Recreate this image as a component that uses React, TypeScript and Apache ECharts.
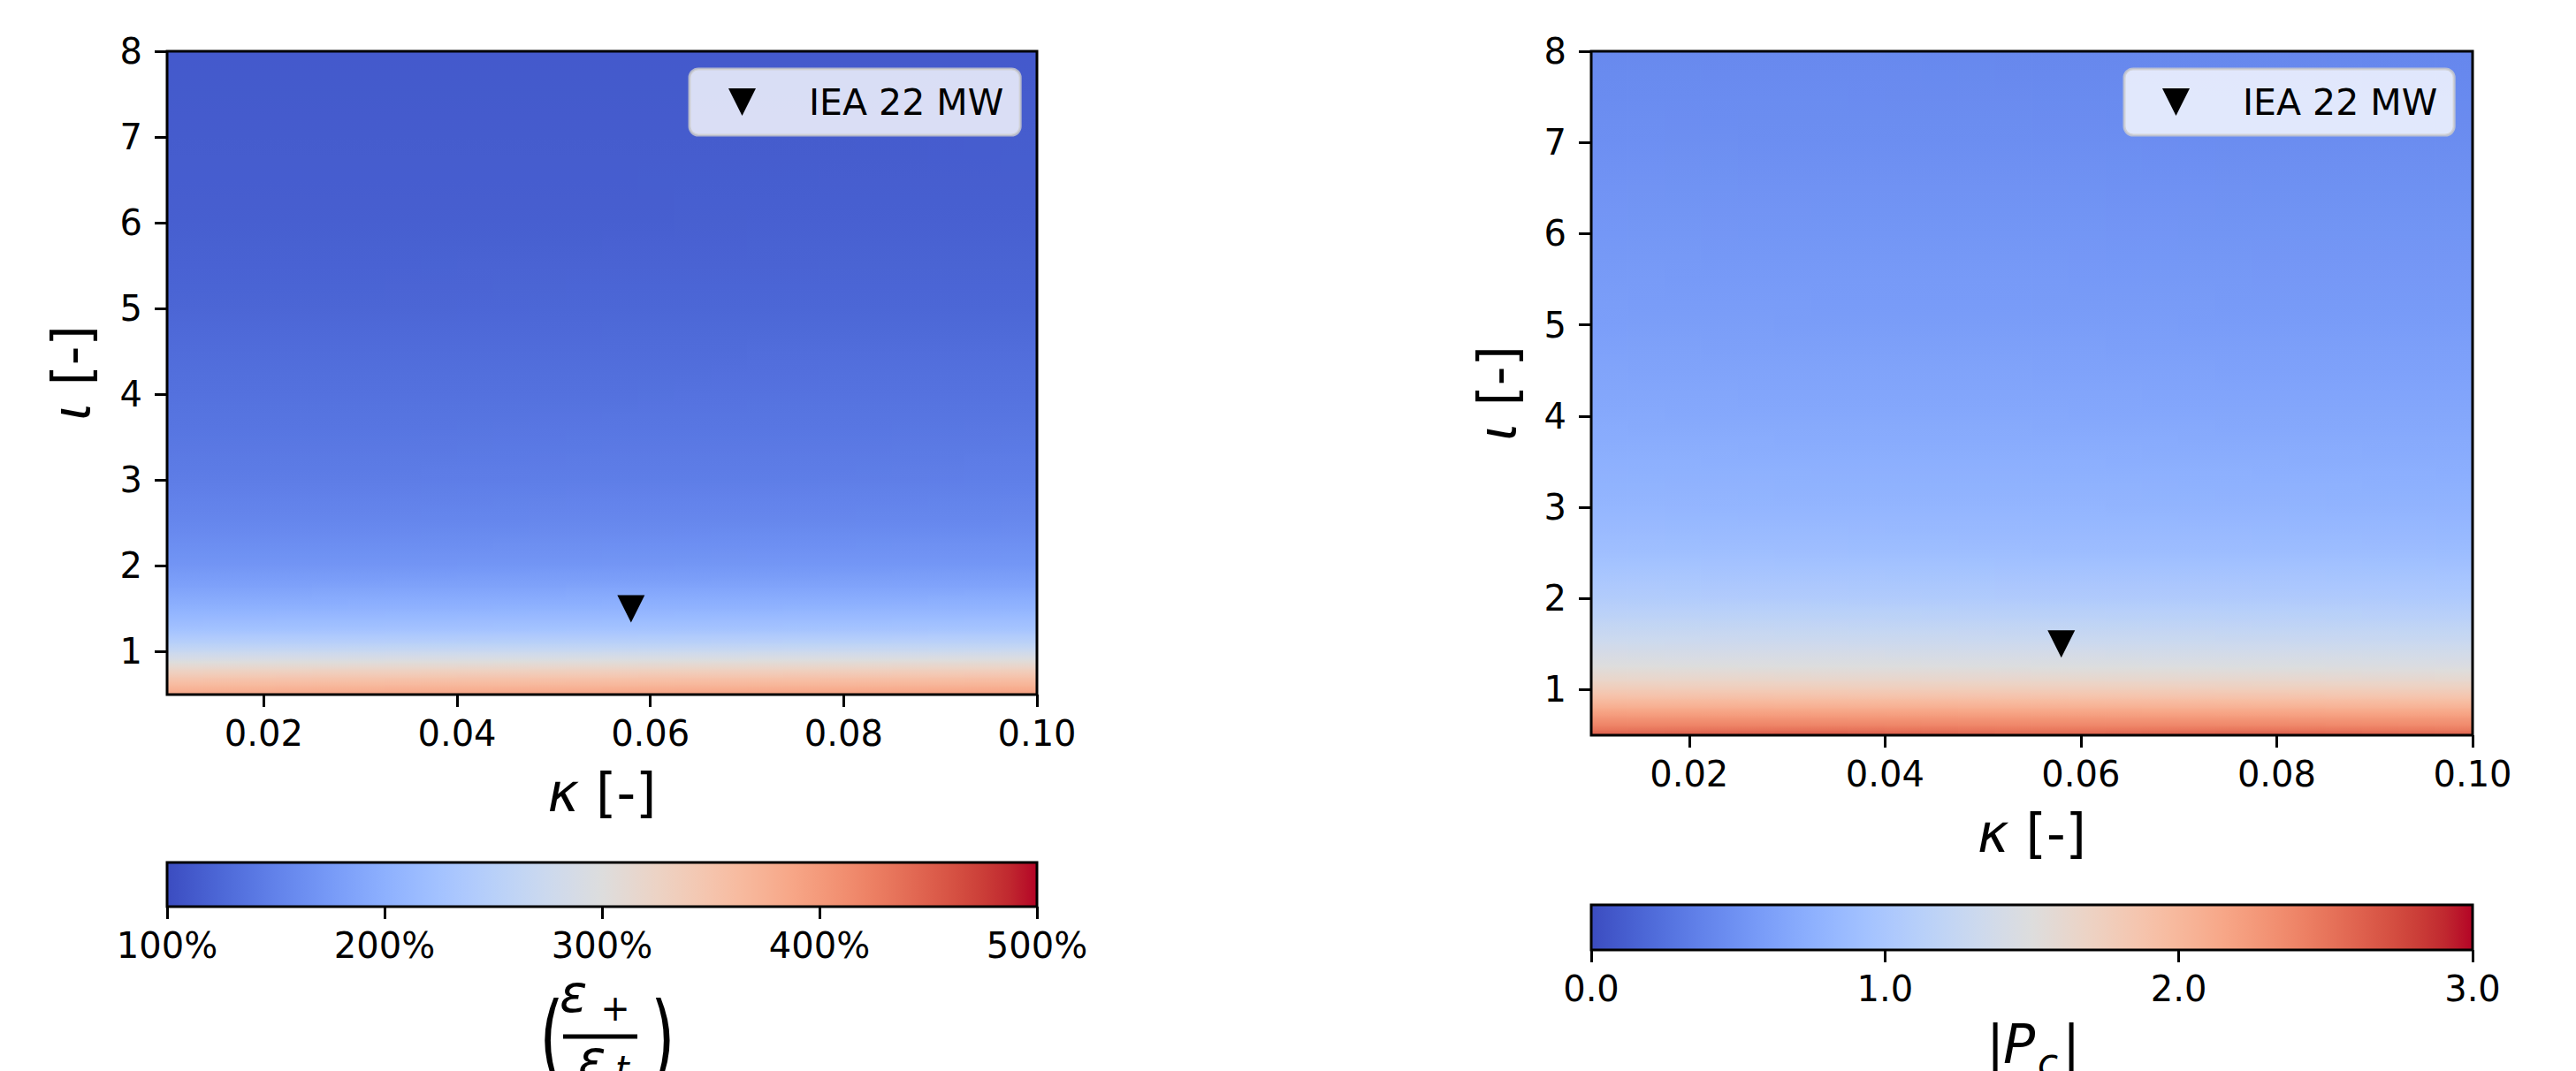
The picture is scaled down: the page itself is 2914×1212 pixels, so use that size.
import React, { useEffect, useRef } from "react";
import * as echarts from "echarts";

const FONT = "DejaVu Sans";

// ---- data ----
const kappa = [0.01, 0.0325, 0.055, 0.0775, 0.1];
const iota = [0.5, 0.55, 0.6, 0.7, 0.8, 0.9, 1.0, 1.1, 1.25, 1.5, 1.75, 2.0, 2.5, 3.0, 3.5, 4.0, 5.0, 6.0, 7.0, 8.0];

// (eps+/eps_t) in %, one row per iota value, one column per kappa value
const strainRatio = [
  [386, 388, 391, 393, 395],
  [376, 378, 381, 383, 385],
  [366, 368, 370, 372, 374],
  [345, 347, 349, 351, 353],
  [320, 322, 324, 326, 328],
  [294, 296, 298, 300, 302],
  [270, 272, 273, 275, 276],
  [250, 251, 252, 254, 255],
  [226, 227, 228, 229, 230],
  [202, 203, 204, 205, 206],
  [184, 185, 186, 186, 187],
  [170, 170, 171, 172, 172],
  [155, 155, 156, 156, 157],
  [145, 145, 146, 146, 147],
  [139, 139, 140, 140, 141],
  [134, 134, 134, 135, 135],
  [123, 123, 124, 124, 124],
  [117, 117, 117, 118, 118],
  [114, 114, 114, 114, 115],
  [112, 112, 112, 112, 112],
];

// |P_c|, one row per iota value, one column per kappa value
const pcAbs = [
  [2.64, 2.7, 2.6, 2.68, 2.62],
  [2.52, 2.54, 2.5, 2.52, 2.48],
  [2.42, 2.42, 2.4, 2.4, 2.38],
  [2.27, 2.26, 2.25, 2.24, 2.23],
  [2.1, 2.09, 2.08, 2.07, 2.06],
  [1.94, 1.93, 1.92, 1.91, 1.9],
  [1.79, 1.78, 1.77, 1.76, 1.75],
  [1.66, 1.65, 1.64, 1.63, 1.62],
  [1.51, 1.5, 1.49, 1.48, 1.47],
  [1.34, 1.33, 1.32, 1.31, 1.3],
  [1.2, 1.19, 1.18, 1.17, 1.16],
  [1.07, 1.06, 1.05, 1.05, 1.04],
  [0.91, 0.9, 0.89, 0.89, 0.88],
  [0.81, 0.8, 0.8, 0.79, 0.78],
  [0.75, 0.74, 0.74, 0.73, 0.72],
  [0.69, 0.68, 0.68, 0.67, 0.67],
  [0.6, 0.59, 0.59, 0.58, 0.58],
  [0.54, 0.53, 0.53, 0.52, 0.52],
  [0.48, 0.47, 0.47, 0.46, 0.46],
  [0.43, 0.43, 0.42, 0.42, 0.41],
];

const xTicks = [0.02, 0.04, 0.06, 0.08, 0.1];
const yTicks = [1, 2, 3, 4, 5, 6, 7, 8];
const ratioRange = [100, 500];
const pcRange = [0, 3];
const turbineName = "IEA 22 MW";
const turbinePoint = [0.058, 1.5];

// matplotlib "coolwarm" colormap
const COOLWARM = [
  [59, 76, 192], [68, 90, 204], [77, 104, 215], [87, 117, 225], [98, 130, 234],
  [108, 142, 241], [119, 154, 247], [130, 165, 251], [141, 176, 254], [152, 185, 255],
  [163, 194, 255], [174, 201, 253], [184, 208, 249], [194, 213, 244], [204, 217, 238],
  [213, 219, 230], [221, 221, 221], [229, 216, 209], [236, 211, 197], [241, 204, 185],
  [245, 196, 173], [247, 187, 160], [247, 177, 148], [247, 166, 135], [244, 154, 123],
  [241, 141, 111], [236, 127, 99], [229, 112, 88], [222, 96, 77], [213, 80, 66],
  [203, 62, 56], [192, 40, 47], [180, 4, 38],
];

function cw(t: number): string {
  const tt = Math.max(0, Math.min(1, t)) * (COOLWARM.length - 1);
  const i = Math.min(COOLWARM.length - 2, Math.floor(tt));
  const f = tt - i;
  const a = COOLWARM[i], b = COOLWARM[i + 1];
  const c = [0, 1, 2].map((k) => Math.round(a[k] + (b[k] - a[k]) * f));
  return `rgb(${c[0]},${c[1]},${c[2]})`;
}
const lerp = (a: number, b: number, f: number) => a + (b - a) * f;

function fieldSeries(values: number[][], vmin: number, vmax: number, idx: number) {
  const data: number[][] = [];
  for (let i = 0; i < iota.length - 1; i++)
    for (let j = 0; j < kappa.length - 1; j++) data.push([kappa[j], iota[i], i, j]);
  return {
    type: "custom",
    xAxisIndex: idx,
    yAxisIndex: idx,
    data,
    clip: true,
    silent: true,
    z: 1,
    renderItem: (params: any, api: any) => {
      const i = api.value(2), j = api.value(3);
      const p00 = api.coord([kappa[j], iota[i]]);
      const p11 = api.coord([kappa[j + 1], iota[i + 1]]);
      const x0 = p00[0], x1 = p11[0], yb = p00[1], yt = p11[1];
      const N = 6;
      const children: any[] = [];
      for (let k = 0; k < N; k++) {
        const fm = (k + 0.5) / N;
        const top = lerp(values[i + 1][j], values[i + 1][j + 1], fm);
        const bot = lerp(values[i][j], values[i][j + 1], fm);
        const stops: any[] = [];
        for (let s = 0; s <= 4; s++) {
          const v = lerp(top, bot, s / 4);
          stops.push({ offset: s / 4, color: cw((v - vmin) / (vmax - vmin)) });
        }
        const xa = lerp(x0, x1, k / N), xb = lerp(x0, x1, (k + 1) / N);
        children.push({
          type: "rect",
          shape: { x: xa - 0.4, y: yt - 0.4, width: xb - xa + 0.8, height: yb - yt + 0.8 },
          style: { fill: new echarts.graphic.LinearGradient(0, 0, 0, 1, stops) },
        });
      }
      return { type: "group", children };
    },
  };
}

function colorbarSeries(range: number[], idx: number) {
  return {
    type: "custom",
    xAxisIndex: idx,
    yAxisIndex: idx,
    data: [[range[0], range[1]]],
    silent: true,
    z: 1,
    renderItem: (params: any, api: any) => {
      const p0 = api.coord([api.value(0), 0]);
      const p1 = api.coord([api.value(1), 1]);
      const stops = COOLWARM.map((c, k) => ({
        offset: k / (COOLWARM.length - 1),
        color: `rgb(${c[0]},${c[1]},${c[2]})`,
      }));
      return {
        type: "rect",
        shape: { x: p0[0], y: p1[1], width: p1[0] - p0[0], height: p0[1] - p1[1] },
        style: { fill: new echarts.graphic.LinearGradient(0, 0, 1, 0, stops) },
      };
    },
  };
}

const txt = { fontFamily: FONT, color: "#000" };

function mainX(grid: number, nameGap: number) {
  return {
    type: "value",
    gridIndex: grid,
    min: 0.01,
    max: 0.1,
    name: "{i|κ} [-]",
    nameLocation: "middle",
    nameGap,
    nameTextStyle: { ...txt, fontSize: 60, rich: { i: { ...txt, fontSize: 60, fontStyle: "italic" } } },
    axisLine: { show: false },
    axisTick: { show: true, inside: false, length: 14, lineStyle: { color: "#000", width: 3 }, customValues: xTicks },
    axisLabel: { ...txt, fontSize: 40, margin: 24, customValues: xTicks, formatter: (v: number) => v.toFixed(2) },
    splitLine: { show: false },
  };
}
function mainY(grid: number, nameGap: number) {
  return {
    type: "value",
    gridIndex: grid,
    min: 0.5,
    max: 8,
    name: "{i|ι} [-]",
    nameLocation: "middle",
    nameGap,
    nameRotate: 90,
    nameTextStyle: { ...txt, fontSize: 60, rich: { i: { ...txt, fontSize: 60, fontStyle: "italic" } } },
    axisLine: { show: false },
    axisTick: { show: true, inside: false, length: 14, lineStyle: { color: "#000", width: 3 }, customValues: yTicks },
    axisLabel: { ...txt, fontSize: 40, margin: 28, customValues: yTicks, formatter: (v: number) => String(Math.round(v)) },
    splitLine: { show: false },
  };
}
function cbarX(grid: number, range: number[], fmt: (v: number) => string) {
  return {
    type: "value",
    gridIndex: grid,
    min: range[0],
    max: range[1],
    interval: range[1] > 10 ? 100 : 1,
    axisLine: { show: false },
    axisTick: { show: true, inside: false, length: 14, lineStyle: { color: "#000", width: 3 } },
    axisLabel: { ...txt, fontSize: 40, margin: 24, formatter: fmt },
    splitLine: { show: false },
  };
}
function cbarY(grid: number) {
  return { type: "value", gridIndex: grid, min: 0, max: 1, show: false };
}

function legendAt(left: number, top: number, padLeft: number) {
  return {
    show: true,
    left,
    top,
    orient: "vertical",
    selectedMode: false,
    data: [{ name: turbineName, icon: "path://M0,0L10,0L5,10Z", itemStyle: { color: "#000", opacity: 1 } }],
    itemWidth: 31,
    itemHeight: 31,
    padding: [17, 19, 17, padLeft],
    backgroundColor: "rgba(255,255,255,0.8)",
    borderColor: "rgba(204,204,204,0.8)",
    borderWidth: 3,
    borderRadius: 10,
    textStyle: { ...txt, fontSize: 41, padding: [0, 0, 0, 55] },
  };
}

const gridBase = { show: true, borderColor: "#000", borderWidth: 3, backgroundColor: "transparent", z: 10 };

const tStyle = (extra: any) => ({ fontFamily: FONT, fill: "#000", ...extra });

export default function App() {
  const ref = useRef<HTMLDivElement>(null);
  useEffect(() => {
    if (!ref.current) return;
    const chart = echarts.init(ref.current, null, { renderer: "svg" });
    const markerSeries = (idx: number) => ({
      type: "scatter",
      name: turbineName,
      xAxisIndex: idx,
      yAxisIndex: idx,
      data: [turbinePoint],
      symbol: "path://M0,0L10,0L5,10Z",
      symbolSize: [31, 31],
      itemStyle: { color: "#000", opacity: 1 },
      z: 5,
      silent: true,
    });
    const option: any = {
      animation: false,
      backgroundColor: "#fff",
      grid: [
        { ...gridBase, left: 189, top: 58, width: 984, height: 728 },
        { ...gridBase, left: 1800, top: 58, width: 997, height: 774 },
        { ...gridBase, left: 189, top: 976, width: 984, height: 50 },
        { ...gridBase, left: 1800, top: 1024, width: 997, height: 51 },
      ],
      xAxis: [
        mainX(0, 81),
        mainX(1, 81),
        cbarX(2, ratioRange, (v: number) => `${v}%`),
        cbarX(3, pcRange, (v: number) => v.toFixed(1)),
      ],
      yAxis: [mainY(0, 78), mainY(1, 76), cbarY(2), cbarY(3)],
      legend: [legendAt(780, 78, 44), legendAt(2403, 78, 43)],
      series: [
        fieldSeries(strainRatio, ratioRange[0], ratioRange[1], 0),
        fieldSeries(pcAbs, pcRange[0], pcRange[1], 1),
        colorbarSeries(ratioRange, 2),
        colorbarSeries(pcRange, 3),
        markerSeries(0),
        markerSeries(1),
      ],
      graphic: [
        // colorbar label (eps+/eps_t)
        { type: "text", x: 624, y: 1175, scaleY: 1.55, style: tStyle({ text: "(", fontSize: 70, textAlign: "center", align: "center", textVerticalAlign: "middle", verticalAlign: "middle" }) },
        { type: "text", x: 633, y: 1125, style: tStyle({ text: "ε", fontStyle: "italic", fontSize: 58, textAlign: "left", align: "left", textVerticalAlign: "middle", verticalAlign: "middle" }) },
        { type: "text", x: 696, y: 1141, style: tStyle({ text: "+", fontSize: 40, textAlign: "center", align: "center", textVerticalAlign: "middle", verticalAlign: "middle" }) },
        { type: "line", shape: { x1: 637, y1: 1173, x2: 721, y2: 1173 }, style: { stroke: "#000", lineWidth: 5 } },
        { type: "text", x: 654, y: 1199, style: tStyle({ text: "ε", fontStyle: "italic", fontSize: 58, textAlign: "left", align: "left", textVerticalAlign: "middle", verticalAlign: "middle" }) },
        { type: "text", x: 696, y: 1210, style: tStyle({ text: "t", fontStyle: "italic", fontSize: 40, textAlign: "left", align: "left", textVerticalAlign: "middle", verticalAlign: "middle" }) },
        { type: "text", x: 750, y: 1175, scaleY: 1.55, style: tStyle({ text: ")", fontSize: 70, textAlign: "center", align: "center", textVerticalAlign: "middle", verticalAlign: "middle" }) },
        // colorbar label |P_c|
        { type: "text", x: 2247, y: 1152, style: tStyle({ text: "|", fontSize: 60, textAlign: "left", align: "left", textVerticalAlign: "top", verticalAlign: "top" }) },
        { type: "text", x: 2266, y: 1152, style: tStyle({ text: "P", fontStyle: "italic", fontSize: 60, textAlign: "left", align: "left", textVerticalAlign: "top", verticalAlign: "top" }) },
        { type: "text", x: 2305, y: 1181, style: tStyle({ text: "c", fontStyle: "italic", fontSize: 42, textAlign: "left", align: "left", textVerticalAlign: "top", verticalAlign: "top" }) },
        { type: "text", x: 2333, y: 1152, style: tStyle({ text: "|", fontSize: 60, textAlign: "left", align: "left", textVerticalAlign: "top", verticalAlign: "top" }) },
      ],
    };
    chart.setOption(option);
    return () => chart.dispose();
  }, []);
  return (
    <div
      ref={ref}
      style={{ position: "absolute", left: 0, top: 0, width: 2914, height: 1212, background: "#fff" }}
    />
  );
}
